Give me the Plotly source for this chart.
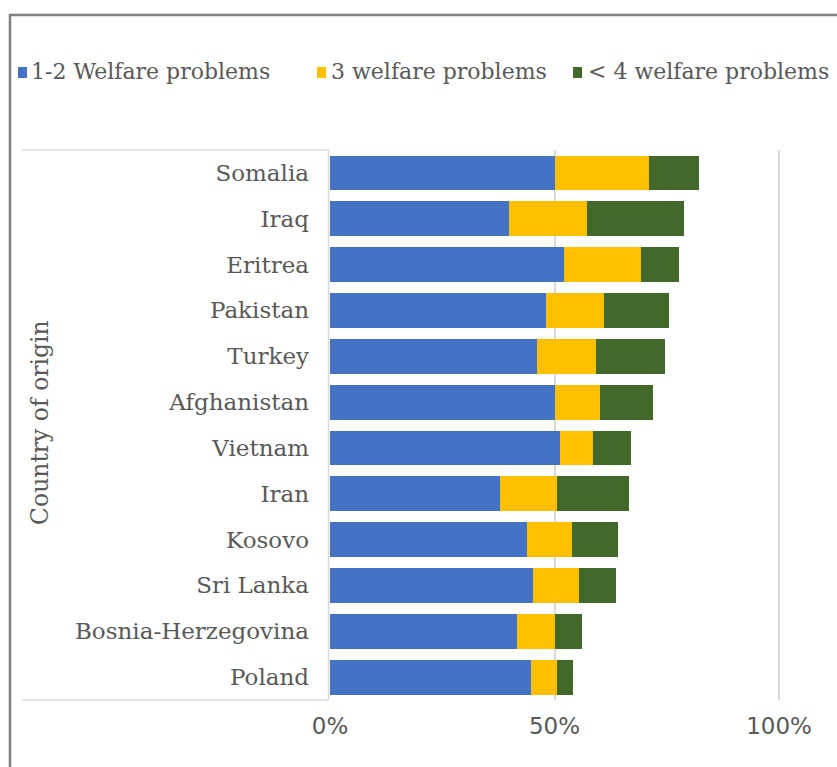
import plotly.graph_objects as go

# Share of respondents (%) by number of welfare problems, per country of origin
countries = ["Somalia", "Iraq", "Eritrea", "Pakistan", "Turkey", "Afghanistan",
             "Vietnam", "Iran", "Kosovo", "Sri Lanka", "Bosnia-Herzegovina", "Poland"]
problems_1_2 = [50.0, 39.9, 52.1, 48.1, 46.1, 50.1, 51.2, 37.9, 43.9, 45.2, 41.6, 44.8]
problems_3 = [21.0, 17.4, 17.1, 12.9, 13.1, 10.0, 7.3, 12.7, 10.0, 10.2, 8.5, 5.8]
problems_4 = [11.1, 21.6, 8.5, 14.5, 15.4, 11.8, 8.5, 16.0, 10.2, 8.2, 6.0, 3.5]

series_names = ["1-2 Welfare problems", "3 welfare problems", "< 4 welfare problems"]
series_values = [problems_1_2, problems_3, problems_4]
colors = ["#4472C4", "#FFC000", "#43682B"]

W, H = 837, 767
ML, MR, MT, MB = 330, 0, 150, 67
PW, PH = W - ML - MR, H - MT - MB

SERIF = "DejaVu Serif"
SANS = "DejaVu Sans"
TXT = "#595959"
GRID = "#D9D9D9"


def px(x):
    return (x - ML) / PW


def py(y):
    return (H - MB - y) / PH


fig = go.Figure()
for name, vals, col in zip(series_names, series_values, colors):
    fig.add_trace(go.Bar(
        y=countries, x=[v / 100 for v in vals], name=name, orientation="h",
        marker=dict(color=col, line=dict(width=0)), showlegend=False,
    ))

shapes = []
# outer chart frame
shapes.append(dict(type="rect", xref="paper", yref="paper",
                   x0=px(10), x1=px(W + 20), y0=py(H + 20), y1=py(15),
                   line=dict(color="#7F7F7F", width=2.5), fillcolor="rgba(0,0,0,0)",
                   layer="below"))
# category group bracket
shapes.append(dict(type="line", xref="paper", yref="paper",
                   x0=px(22), x1=px(328.5), y0=py(150), y1=py(150),
                   line=dict(color=GRID, width=1.5)))
shapes.append(dict(type="line", xref="paper", yref="paper",
                   x0=px(22), x1=px(328.5), y0=py(700), y1=py(700),
                   line=dict(color=GRID, width=1.5)))
shapes.append(dict(type="line", xref="paper", yref="paper",
                   x0=px(328.5), x1=px(328.5), y0=py(150), y1=py(700),
                   line=dict(color=GRID, width=1.5)))

annotations = []
# legend row
legend_pos = [(18, 29), (317, 329), (573, 586)]
for (sx, tx), name, col in zip(legend_pos, series_names, colors):
    shapes.append(dict(type="rect", xref="paper", yref="paper",
                       x0=px(sx), x1=px(sx + 9), y0=py(78), y1=py(67),
                       line=dict(width=0), fillcolor=col))
    annotations.append(dict(xref="paper", yref="paper", x=px(tx), y=py(72),
                            text=name, showarrow=False, xanchor="left", yanchor="middle",
                            font=dict(family=SERIF, size=22, color=TXT)))

# outer category level label
annotations.append(dict(xref="paper", yref="paper", x=px(40), y=py(423),
                        text="Country of origin", textangle=-90, showarrow=False,
                        xanchor="center", yanchor="middle",
                        font=dict(family=SERIF, size=23.5, color=TXT)))

fig.update_layout(
    width=W, height=H,
    margin=dict(l=ML, r=MR, t=MT, b=MB, autoexpand=False),
    barmode="stack", bargap=0.24,
    plot_bgcolor="white", paper_bgcolor="white",
    shapes=shapes, annotations=annotations,
    xaxis=dict(range=[0, PW / 449], tickvals=[0, 0.5, 1], tickformat=".0%",
               showgrid=True, gridcolor=GRID, gridwidth=1.5, zeroline=False,
               showline=False, ticks="", ticklabelstandoff=10,
               tickfont=dict(family=SANS, size=23, color=TXT)),
    yaxis=dict(autorange="reversed", showgrid=False, zeroline=False, showline=False,
               ticks="", ticklabelstandoff=20,
               tickfont=dict(family=SERIF, size=23, color=TXT)),
)

fig.write_html("out.html")
